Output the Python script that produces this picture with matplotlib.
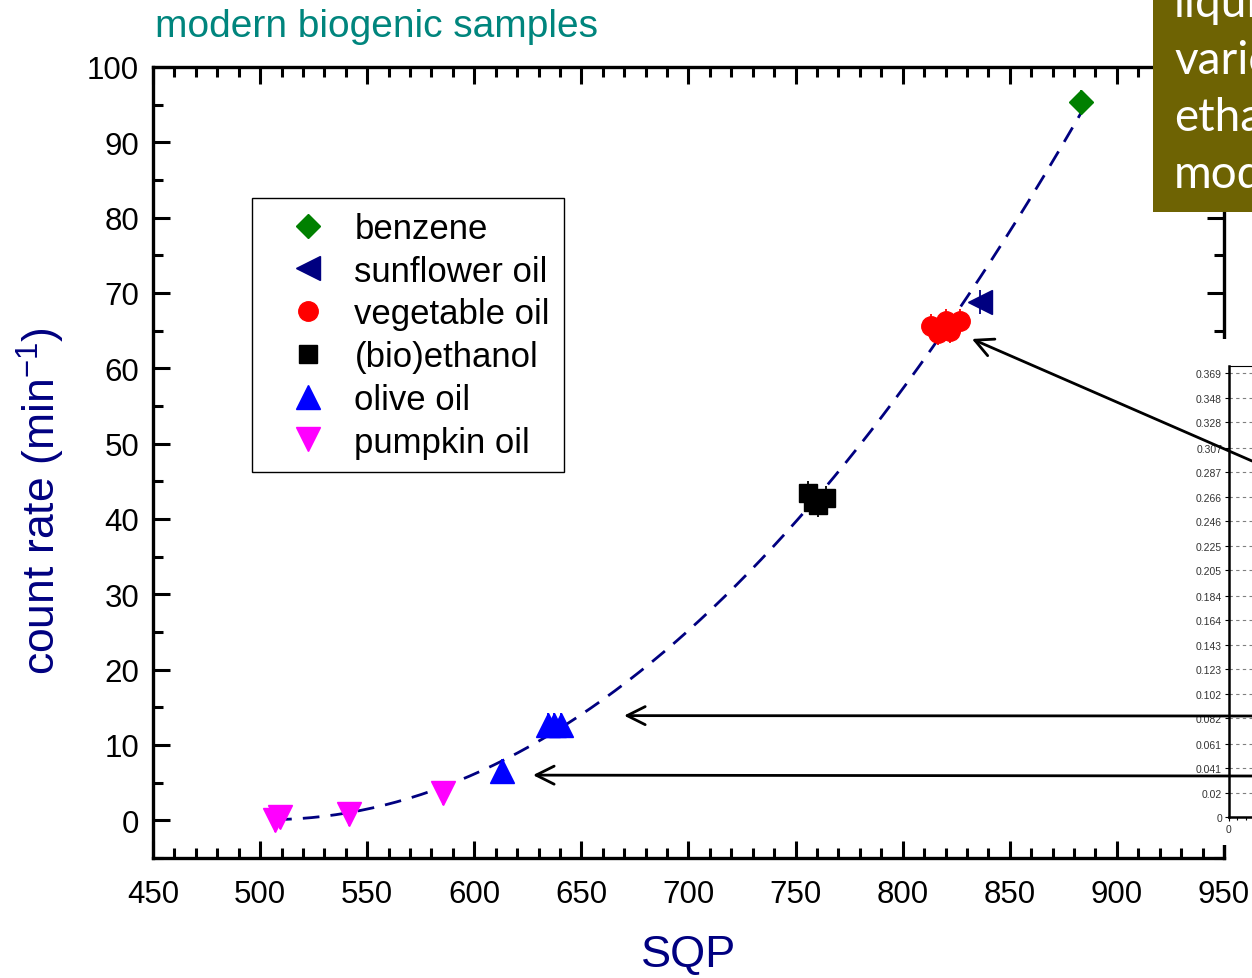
import numpy as np
import matplotlib
matplotlib.use("Agg")
import matplotlib.pyplot as plt
from matplotlib.patches import Rectangle, ConnectionPatch
from matplotlib.ticker import MultipleLocator, FixedLocator

plt.rcParams["font.family"] = ["Liberation Sans", "DejaVu Sans"]
plt.rcParams["mathtext.fontset"] = "custom"
plt.rcParams["mathtext.rm"] = "Liberation Sans"
plt.rcParams["mathtext.it"] = "Liberation Sans:italic"

# SQP / count rate (min^-1) per sample group
benzene_x = [883.2]
benzene_y = [95.4]
sunflower_x = [836.1]
sunflower_y = [68.8]
vegetable_x = [813.2, 816.5, 820.2, 822.1, 826.8]
vegetable_y = [65.6, 64.7, 66.3, 64.9, 66.3]
ethanol_x = [755.8, 758.1, 760.5, 764.2]
ethanol_y = [43.4, 42.3, 41.9, 42.8]
olive_x = [634.4, 637.2, 640.5, 612.9]
olive_y = [12.6, 12.6, 12.6, 6.6]
pumpkin_x = [507.0, 509.3, 541.5, 585.4]
pumpkin_y = [0.0, 0.5, 0.8, 3.6]
err_y = 1.6

inset_labels = ["0", "0.02", "0.041", "0.061", "0.082", "0.102", "0.123", "0.143",
                "0.164", "0.184", "0.205", "0.225", "0.246", "0.266", "0.287",
                "0.307", "0.328", "0.348", "0.369"]

box_lines = ["liquid", "various", "ethanol", "modern"]

NAVY = "#000080"
groups = [
    ("benzene", benzene_x, benzene_y, "D", "#008000", 12.5),
    ("sunflower oil", sunflower_x, sunflower_y, "<", NAVY, 17),
    ("vegetable oil", vegetable_x, vegetable_y, "o", "#FF0000", 14),
    ("(bio)ethanol", ethanol_x, ethanol_y, "s", "black", 13),
    ("olive oil", olive_x, olive_y, "^", "#0000FF", 17),
    ("pumpkin oil", pumpkin_x, pumpkin_y, "v", "#FF00FF", 17),
]

W, H = 1252, 979
fig = plt.figure(figsize=(W / 100, H / 100), dpi=100)
ax = fig.add_axes([153 / W, 1 - 859 / H, (1224 - 153) / W, (859 - 68) / H])
ax.set_zorder(0)

# quadratic fit through all samples
all_x = np.concatenate([g[1] for g in groups])
all_y = np.concatenate([g[2] for g in groups])
coef = np.polyfit(all_x, all_y, 2)
fx = np.linspace(min(all_x), max(all_x), 200)
ax.plot(fx, np.polyval(coef, fx), color=NAVY, lw=2, ls=(0, (6, 4)), zorder=2)

for label, xs, ys, mk, col, ms in groups:
    ax.errorbar(xs, ys, yerr=err_y, fmt="none", ecolor=col, elinewidth=1.3, zorder=3)
    ax.plot(xs, ys, ls="none", marker=mk, color=col, ms=ms, mec=col, label=label, zorder=4)

ax.set_xlim(450, 950)
ax.set_ylim(-5, 100)
ax.xaxis.set_major_locator(MultipleLocator(50))
ax.xaxis.set_minor_locator(MultipleLocator(10))
ax.yaxis.set_major_locator(MultipleLocator(10))
ax.yaxis.set_minor_locator(MultipleLocator(5))
ax.set_yticks(np.arange(0, 101, 10))
ax.tick_params(which="both", direction="in", top=True, right=True, width=2.2, colors="black")
ax.tick_params(which="major", length=12, labelsize=22.5)
ax.tick_params(which="minor", length=7)
ax.tick_params(axis="x", pad=15)
ax.tick_params(axis="y", pad=10)
for sp in ax.spines.values():
    sp.set_linewidth(2.4)

ax.set_xlabel("SQP", fontsize=32.5, color=NAVY, labelpad=18)
ax.set_ylabel(r"count rate (min$^{-1}$)", fontsize=32, color=NAVY)
ax.yaxis.set_label_coords(-0.0805, 0.452)

leg = ax.legend(loc="upper left", bbox_to_anchor=((252 - 153) / 1071, (859 - 199) / 791),
                borderaxespad=0, fontsize=25, numpoints=1, fancybox=False, framealpha=1,
                edgecolor="black", borderpad=0.4, labelspacing=0.28, handlelength=2.4,
                handletextpad=0.15)
leg.get_frame().set_linewidth(1.0)

fig.text(155 / W, 1 - 37 / H, "modern biogenic samples", fontsize=28, color="#00857D",
         va="baseline", ha="left")

# white panel behind the small calibration plot
fig.add_artist(Rectangle((1186 / W, 1 - 846 / H), 0.1, (846 - 340) / H,
                         transform=fig.transFigure, facecolor="white", edgecolor="none",
                         zorder=1))

ins = fig.add_axes([1229 / W, 1 - 818 / H, 0.2, (818 - 367) / H])
ins.set_zorder(2)
ins.set_ylim(0, 0.3748)
ins.set_xlim(0, 30)
ins.yaxis.set_major_locator(FixedLocator([float(v) for v in inset_labels]))
ins.set_yticklabels(inset_labels)
ins.set_xticks([0])
ins.xaxis.set_minor_locator(MultipleLocator(1))
ins.grid(axis="y", ls=(0, (3, 3)), color="#808080", lw=0.8)
ins.tick_params(labelsize=7.5, labelcolor="#333333", length=3, width=0.8, pad=2)
ins.tick_params(which="minor", length=2, width=0.8)
ins.spines["left"].set_linewidth(1.8)
ins.spines["bottom"].set_linewidth(1.8)
ins.spines["top"].set_linewidth(0.8)
ins.spines["right"].set_visible(False)

# arrows from the calibration plot to the samples
arrows = [((1.0, 1 - 462 / H), (832.3, 63.9)),
          ((1.0, 1 - 717 / H), (669.9, 13.9)),
          ((1.0, 1 - 777 / H), (627.4, 6.0))]
for start, end in arrows:
    con = ConnectionPatch(xyA=start, coordsA="figure fraction", xyB=end, coordsB=ax.transData,
                          arrowstyle="->,head_length=1.3,head_width=0.65", mutation_scale=10,
                          lw=2, color="black", shrinkA=0, shrinkB=0)
    con.set_zorder(5)
    fig.add_artist(con)

# olive text box in the corner
fig.add_artist(Rectangle((1153 / W, 1 - 213 / H), 0.1, 213 / H, transform=fig.transFigure,
                         facecolor="#6E6303", edgecolor="none", zorder=6))
for i, line in enumerate(box_lines):
    fig.text(1174 / W, 1 - (17 + 57 * i) / H, line, fontsize=33, color="white",
             family=["Lato", "DejaVu Sans"], va="baseline", ha="left", zorder=7)

fig.savefig("out.png", dpi=100)
